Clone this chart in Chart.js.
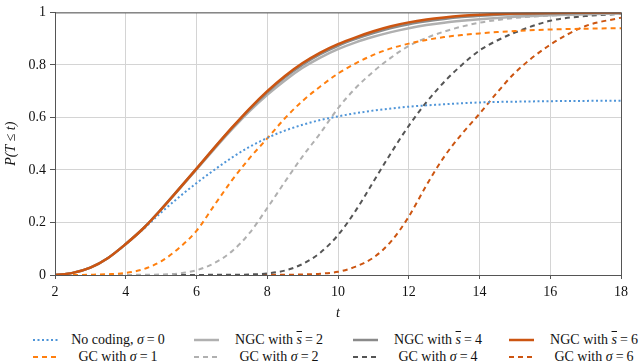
<!DOCTYPE html>
<html>
<head>
<meta charset="utf-8">
<script src="https://cdn.jsdelivr.net/npm/chart.js@4.4.1/dist/chart.umd.min.js"></script>
<style>
  html, body { margin: 0; padding: 0; background: #fff; }
  #wrap { position: relative; width: 640px; height: 364px; font-family: "Liberation Serif", "Liberation Sans", sans-serif; }
  #c { position: absolute; left: 0; top: 0; }
  #legend { position: absolute; left: 0; top: 331px; width: 640px; height: 34px; }
  .item { position: absolute; height: 17px; line-height: 17px; font-size: 14px; color: #111; white-space: nowrap; }
  .item svg { position: absolute; left: 0; top: 7px; }
  .item .txt { position: absolute; left: 29px; width: 112px; text-align: center; }
  .ov { text-decoration: overline; font-style: italic; }
  .eq { margin: 0 3px; }
</style>
</head>
<body>
<div id="wrap">
  <canvas id="c" width="640" height="322"></canvas>
  <div id="legend"></div>
</div>
<script>
// time axis samples
const tValues = [2, 2.5, 3, 3.5, 4, 4.5, 5, 5.5, 6, 6.5, 7, 7.5, 8, 8.5, 9, 9.5, 10, 10.5, 11, 11.5, 12, 12.5, 13, 13.5, 14, 14.5, 15, 16, 17, 18];

// P(T <= t)
const noCoding = [0, 0.008, 0.028, 0.065, 0.117, 0.175, 0.238, 0.296, 0.35, 0.40, 0.447, 0.488, 0.522, 0.55, 0.572, 0.59, 0.604, 0.616, 0.626, 0.634, 0.641, 0.646, 0.65, 0.654, 0.657, 0.659, 0.66, 0.662, 0.663, 0.664];
const ngc2 = [0, 0.008, 0.028, 0.065, 0.118, 0.178, 0.249, 0.325, 0.402, 0.479, 0.554, 0.624, 0.686, 0.741, 0.789, 0.828, 0.86, 0.886, 0.907, 0.925, 0.94, 0.952, 0.961, 0.968, 0.974, 0.979, 0.983, 0.989, 0.993, 0.996];
const ngc4 = [0, 0.008, 0.028, 0.065, 0.118, 0.178, 0.25, 0.327, 0.404, 0.483, 0.559, 0.631, 0.696, 0.753, 0.801, 0.841, 0.873, 0.899, 0.921, 0.94, 0.955, 0.966, 0.975, 0.982, 0.987, 0.991, 0.993, 0.996, 0.998, 0.999];
const ngc6 = [0, 0.008, 0.028, 0.065, 0.118, 0.178, 0.25, 0.327, 0.405, 0.484, 0.561, 0.634, 0.70, 0.758, 0.807, 0.847, 0.879, 0.905, 0.928, 0.947, 0.962, 0.973, 0.981, 0.987, 0.991, 0.994, 0.996, 0.998, 0.999, 1.0];
const gc1 = [0, 0, 0.001, 0.003, 0.008, 0.022, 0.052, 0.102, 0.168, 0.265, 0.36, 0.445, 0.52, 0.597, 0.663, 0.718, 0.767, 0.806, 0.838, 0.863, 0.881, 0.895, 0.906, 0.914, 0.92, 0.925, 0.929, 0.935, 0.938, 0.94];
const gc2 = [0, 0, 0, 0, 0, 0.001, 0.002, 0.006, 0.018, 0.045, 0.09, 0.16, 0.255, 0.355, 0.452, 0.54, 0.635, 0.712, 0.775, 0.828, 0.872, 0.903, 0.927, 0.946, 0.961, 0.971, 0.979, 0.988, 0.993, 0.996];
const gc4 = [0, 0, 0, 0, 0, 0, 0, 0, 0, 0.001, 0.001, 0.002, 0.006, 0.017, 0.042, 0.085, 0.152, 0.245, 0.355, 0.465, 0.568, 0.658, 0.735, 0.8, 0.855, 0.893, 0.923, 0.968, 0.986, 0.994];
const gc6 = [0, 0, 0, 0, 0, 0, 0, 0, 0, 0, 0, 0, 0.001, 0.001, 0.002, 0.005, 0.012, 0.032, 0.066, 0.128, 0.222, 0.342, 0.45, 0.537, 0.614, 0.695, 0.77, 0.877, 0.948, 0.98];

const xTicks = [2, 4, 6, 8, 10, 12, 14, 16, 18];
const yTicks = [0, 0.2, 0.4, 0.6, 0.8, 1];

const FONT = '"Liberation Serif", "Liberation Sans", sans-serif';
const DASH = [5, 4];
const DOT = [2, 2.5];

// legend order: row 1 then row 2
const series = [
    { label: 'No coding, <i>σ</i><span class="eq">=</span>0', data: noCoding, color: '#4f95d8', dash: DOT, width: 2, z: 4 },
    { label: 'NGC with <span class="ov">s</span><span class="eq">=</span>2', data: ngc2, color: '#b0b0b0', dash: [], width: 2.5, z: 3 },
    { label: 'NGC with <span class="ov">s</span><span class="eq">=</span>4', data: ngc4, color: '#8a8a8a', dash: [], width: 2.5, z: 2 },
    { label: 'NGC with <span class="ov">s</span><span class="eq">=</span>6', data: ngc6, color: '#cc5511', dash: [], width: 2.5, z: 0 },
    { label: 'GC with <i>σ</i><span class="eq">=</span>1', data: gc1, color: '#ff7f0e', dash: DASH, width: 2, z: 5 },
    { label: 'GC with <i>σ</i><span class="eq">=</span>2', data: gc2, color: '#b0b0b0', dash: DASH, width: 2, z: 6 },
    { label: 'GC with <i>σ</i><span class="eq">=</span>4', data: gc4, color: '#555555', dash: DASH, width: 2, z: 7 },
    { label: 'GC with <i>σ</i><span class="eq">=</span>6', data: gc6, color: '#cc5511', dash: DASH, width: 2, z: 8 }
];

const frameBox = {
    id: 'frameBox',
    afterDraw(chart) {
        const a = chart.chartArea, ctx = chart.ctx;
        ctx.save();
        ctx.strokeStyle = '#555';
        ctx.lineWidth = 1;
        ctx.strokeRect(a.left + 0.5, a.top + 0.5, a.right - a.left, a.bottom - a.top);
        ctx.restore();
    }
};

new Chart(document.getElementById('c'), {
    type: 'line',
    data: {
        datasets: series.map(s => ({
            label: s.label,
            data: tValues.map((t, i) => ({ x: t, y: s.data[i] })),
            borderColor: s.color,
            borderDash: s.dash,
            borderWidth: s.width,
            pointRadius: 0,
            fill: false,
            cubicInterpolationMode: 'monotone',
            order: s.z
        }))
    },
    options: {
        responsive: false,
        animation: false,
        layout: { padding: { top: 7, right: 19, left: 0, bottom: 0 } },
        plugins: { legend: { display: false }, tooltip: { enabled: false } },
        scales: {
            x: {
                type: 'linear',
                min: 2, max: 18,
                afterBuildTicks: s => { s.ticks = xTicks.map(v => ({ value: v })); },
                afterFit: s => { s.height = 47; },
                grid: { color: '#d4d4d4', tickColor: '#555', tickLength: 4 },
                border: { color: '#555' },
                ticks: { color: '#111', padding: 5, font: { family: FONT, size: 14 } },
                title: { display: true, text: 't', color: '#111', padding: { top: 0, bottom: 0 }, font: { family: FONT, size: 14, style: 'italic' } }
            },
            y: {
                min: 0, max: 1,
                afterBuildTicks: s => { s.ticks = yTicks.map(v => ({ value: v })); },
                afterFit: s => { s.width = 55; },
                grid: { color: '#d4d4d4', tickColor: '#555', tickLength: 5 },
                border: { color: '#555' },
                ticks: { color: '#111', padding: 4, font: { family: FONT, size: 14 }, callback: v => String(v) },
                title: { display: true, text: 'P(T ≤ t)', color: '#111', padding: { top: 3, bottom: 0 }, font: { family: FONT, size: 14, style: 'italic' } }
            }
        }
    },
    plugins: [frameBox]
});

// legend, 4 columns x 2 rows
const legend = document.getElementById('legend');
const colX = [33, 194, 353, 509];
series.forEach((s, i) => {
    const div = document.createElement('div');
    div.className = 'item';
    div.style.left = colX[i % 4] + 'px';
    div.style.top = (Math.floor(i / 4) * 17) + 'px';
    const dash = s.dash.length ? s.dash.join(',') : 'none';
    div.innerHTML = '<svg width="25" height="4"><line x1="0" y1="2" x2="25" y2="2" stroke="' + s.color +
        '" stroke-width="' + s.width + '" stroke-dasharray="' + dash + '"/></svg><span class="txt">' + s.label + '</span>';
    legend.appendChild(div);
});
</script>
</body>
</html>
